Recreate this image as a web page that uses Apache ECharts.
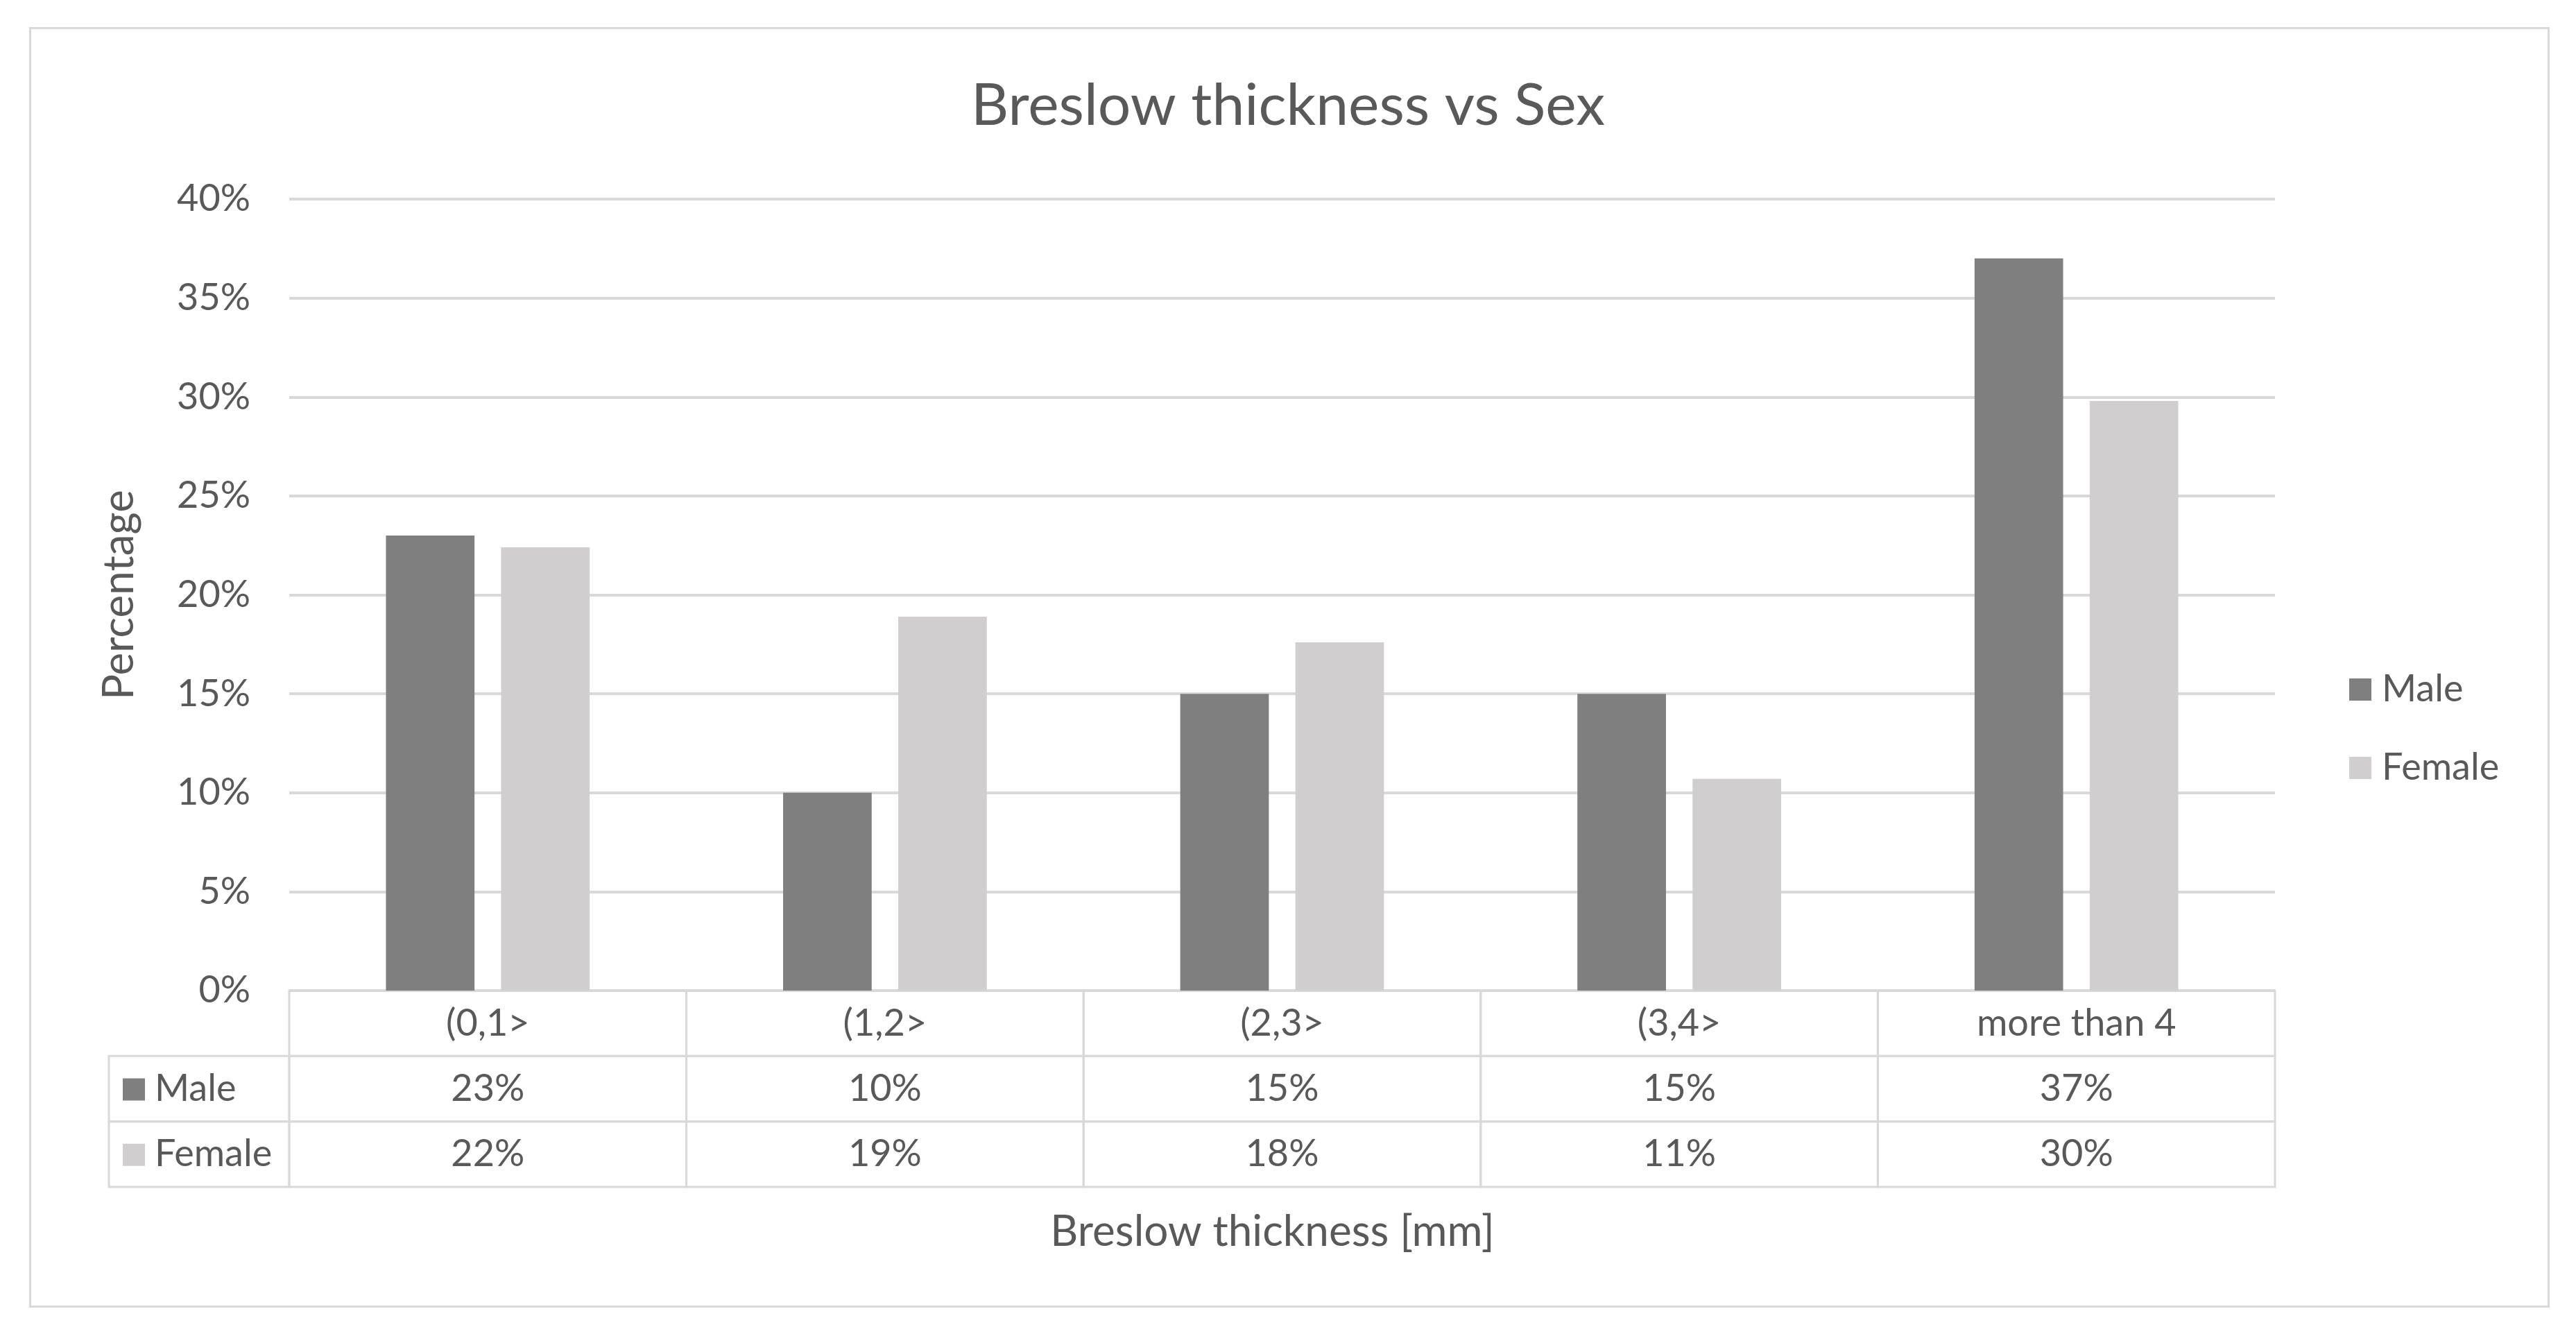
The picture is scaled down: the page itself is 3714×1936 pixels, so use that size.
<!DOCTYPE html>
<html>
<head>
<meta charset="utf-8">
<script src="https://cdn.jsdelivr.net/npm/echarts@6/dist/echarts.min.js"></script>
<style>
html,body{margin:0;padding:0;background:#fff;}
#c{position:absolute;left:0;top:0;width:3714px;height:1936px;}
#frame{position:absolute;left:42px;top:39px;width:3628px;height:1840px;border:3px solid #d9d9d9;pointer-events:none;}
</style>
</head>
<body>
<div id="c"></div>
<div id="frame"></div>
<script>
// ---- data ----
const categories = ['(0,1>', '(1,2>', '(2,3>', '(3,4>', 'more than 4'];
const seriesNames = ['Male', 'Female'];
const maleValues = [23.0, 10.0, 15.0, 15.0, 37.0];
const femaleValues = [22.4, 18.9, 17.6, 10.7, 29.8];
const yTicks = { min: 0, max: 40, interval: 5 };
const colors = ['#7f7f7f', '#d0cece'];

// ---- styles ----
const FONT = 'Lato';
const TXT = '#595959';
const LINE = '#d9d9d9';
const FS = 54;

const seriesValues = [maleValues, femaleValues];
// table cells: [column, row]; column -1 = row header, row 0 = category row
const tableCells = [];
for (let r = 0; r < 3; r++) {
  for (let c = -1; c < categories.length; c++) {
    if (r === 0 && c === -1) continue;
    tableCells.push([c, r]);
  }
}
const tableRows = ['cat'].concat(seriesNames);
const headerWidth = 260;

function cellText(c, r) {
  if (r === 0) return categories[c];
  return Math.round(seriesValues[r - 1][c]) + '%';
}

const chart = echarts.init(document.getElementById('c'), null, { renderer: 'canvas' });
chart.setOption({
  animation: false,
  backgroundColor: '#fff',
  textStyle: { fontFamily: FONT, color: TXT },
  title: {
    text: 'Breslow thickness vs Sex',
    left: 'center',
    top: 106,
    textStyle: { fontFamily: FONT, fontSize: 84, fontWeight: 'normal', color: TXT }
  },
  legend: {
    orient: 'vertical',
    left: 3382,
    top: 962,
    itemWidth: 32,
    itemHeight: 32,
    itemGap: 59,
    icon: 'rect',
    data: seriesNames,
    textStyle: { fontFamily: FONT, fontSize: FS, color: TXT, padding: [0, 0, 0, 10] }
  },
  grid: [
    { left: 417, right: 434, top: 287, height: 1141, containLabel: false },
    { left: 417, right: 434, top: 1428, height: 283, containLabel: false }
  ],
  xAxis: [
    {
      type: 'category', gridIndex: 0, data: categories,
      axisLine: { show: false }, axisTick: { show: false }, axisLabel: { show: false }
    },
    {
      type: 'category', gridIndex: 1, data: categories,
      axisLine: { show: false }, axisTick: { show: false }, axisLabel: { show: false },
      name: 'Breslow thickness [mm]', nameLocation: 'middle', nameGap: 34,
      nameTextStyle: { fontFamily: FONT, fontSize: 62, color: TXT, padding: [0, 28, 0, 0] }
    }
  ],
  yAxis: [
    {
      type: 'value', gridIndex: 0, min: yTicks.min, max: yTicks.max, interval: yTicks.interval,
      axisLine: { show: false }, axisTick: { show: false },
      axisLabel: { formatter: '{value}%', fontFamily: FONT, fontSize: FS, color: TXT, margin: 56 },
      splitLine: { lineStyle: { color: LINE, width: 4 } },
      name: 'Percentage', nameLocation: 'middle', nameGap: 214,
      nameTextStyle: { fontFamily: FONT, fontSize: 62, color: TXT }
    },
    {
      type: 'category', gridIndex: 1, data: tableRows, inverse: true,
      axisLine: { show: false }, axisTick: { show: false }, axisLabel: { show: false },
      splitLine: { show: false }
    }
  ],
  series: [
    {
      name: seriesNames[0], type: 'bar', xAxisIndex: 0, yAxisIndex: 0,
      data: maleValues, barWidth: '22.3%', barGap: '30%',
      itemStyle: { color: colors[0] }
    },
    {
      name: seriesNames[1], type: 'bar', xAxisIndex: 0, yAxisIndex: 0,
      data: femaleValues, barWidth: '22.3%', barGap: '30%',
      itemStyle: { color: colors[1] }
    },
    {
      type: 'custom', xAxisIndex: 1, yAxisIndex: 1, clip: false, silent: true,
      data: tableCells,
      renderItem: function (params, api) {
        const c = api.value(0), r = api.value(1);
        const size = api.size([1, 1]);
        const w = size[0], h = size[1];
        let x0, y0, cw;
        if (c >= 0) {
          const p = api.coord([c, r]);
          x0 = p[0] - w / 2; y0 = p[1] - h / 2; cw = w;
        } else {
          const p = api.coord([0, r]);
          x0 = p[0] - w / 2 - headerWidth; y0 = p[1] - h / 2; cw = headerWidth;
        }
        const children = [{
          type: 'rect',
          shape: { x: x0, y: y0, width: cw, height: h },
          style: { fill: 'none', stroke: LINE, lineWidth: 3 }
        }];
        if (c >= 0) {
          children.push({
            type: 'text',
            style: {
              text: cellText(c, r), x: x0 + cw / 2, y: y0 + h / 2,
              align: 'center', verticalAlign: 'middle',
              fill: TXT, fontSize: FS, fontFamily: FONT
            }
          });
        } else {
          children.push({
            type: 'rect',
            shape: { x: x0 + 20, y: y0 + h / 2 - 15, width: 32, height: 32 },
            style: { fill: colors[r - 1] }
          });
          children.push({
            type: 'text',
            style: {
              text: seriesNames[r - 1], x: x0 + 66, y: y0 + h / 2,
              align: 'left', verticalAlign: 'middle',
              fill: TXT, fontSize: FS, fontFamily: FONT
            }
          });
        }
        return { type: 'group', children: children };
      }
    }
  ]
});
</script>
</body>
</html>
